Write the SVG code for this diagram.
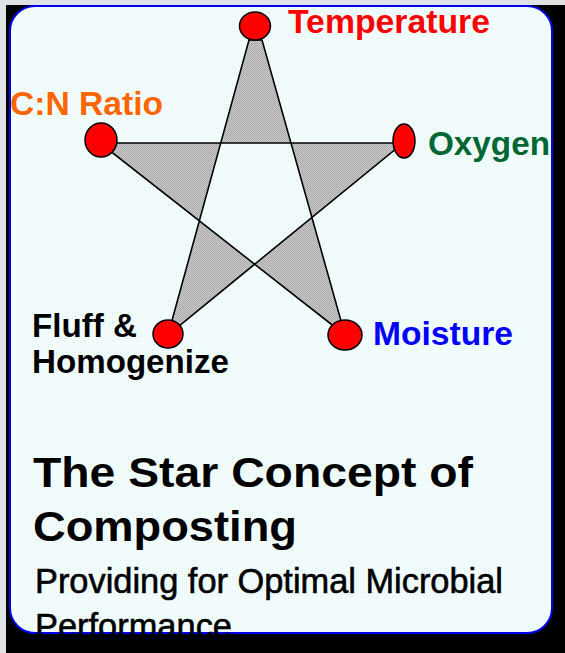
<svg xmlns="http://www.w3.org/2000/svg" width="565" height="653" viewBox="0 0 565 653">
<defs>
<pattern id="cardDots" width="2" height="2" patternUnits="userSpaceOnUse">
<rect width="2" height="2" fill="#f8ffff"/>
<rect width="1" height="1" fill="#ddf8f8"/>
</pattern>
<pattern id="starFill" width="2" height="2" patternUnits="userSpaceOnUse">
<rect width="2" height="2" fill="#c8c8c8"/>
<rect width="1" height="1" fill="#acacac"/>
<rect x="1" y="1" width="1" height="1" fill="#acacac"/>
</pattern>
</defs>
<style>
.lbl{font-family:"Liberation Sans",Arial,sans-serif;font-weight:bold;font-size:33px}
.title{font-family:"Liberation Sans",Arial,sans-serif;font-weight:bold;font-size:43px;fill:#000}
.sub{font-family:"Liberation Sans",Arial,sans-serif;font-size:35px;fill:#000;stroke:#000;stroke-width:0.6}
.node{fill:#ff0000;stroke:#000;stroke-width:1.5}
</style>
<rect x="0" y="0" width="565" height="653" fill="#dfe3e6"/>
<rect x="6" y="5" width="559" height="648" fill="#000"/>
<rect id="card" x="10" y="6" width="542" height="627" rx="25" ry="25" fill="url(#cardDots)" stroke="#0000ee" stroke-width="2"/>
<g id="connectors">
<path d="M168,335 L249,40 L262,40 L345,335 L100,143 L403,143 Z" fill="url(#starFill)" fill-rule="evenodd" stroke="#000" stroke-width="1.6" stroke-linejoin="miter"/>
</g>
<g id="temperature">
<ellipse class="node" cx="255" cy="26" rx="15.5" ry="14"/>
<text class="lbl" x="288" y="33" fill="#ff0000" textLength="202" lengthAdjust="spacingAndGlyphs">Temperature</text>
</g>
<g id="cn-ratio">
<ellipse class="node" cx="101" cy="140" rx="16" ry="17"/>
<text class="lbl" x="10" y="115" fill="#ff6600" textLength="153" lengthAdjust="spacingAndGlyphs">C:N Ratio</text>
</g>
<g id="oxygen">
<ellipse class="node" cx="404" cy="141" rx="11" ry="17"/>
<text class="lbl" x="428" y="155" fill="#006633" textLength="122" lengthAdjust="spacingAndGlyphs">Oxygen</text>
</g>
<g id="fluff">
<ellipse class="node" cx="168" cy="334" rx="15" ry="14"/>
<text class="lbl" x="32" y="337" fill="#000" textLength="105" lengthAdjust="spacingAndGlyphs">Fluff &amp;</text>
<text class="lbl" x="32" y="373" fill="#000" textLength="197" lengthAdjust="spacingAndGlyphs">Homogenize</text>
</g>
<g id="moisture">
<ellipse class="node" cx="345" cy="335" rx="17" ry="15"/>
<text class="lbl" x="373" y="345" fill="#0000ff" textLength="140" lengthAdjust="spacingAndGlyphs">Moisture</text>
</g>
<g id="caption">
<text class="title" x="33" y="487" textLength="440" lengthAdjust="spacingAndGlyphs">The Star Concept of</text>
<text class="title" x="33" y="541" textLength="264" lengthAdjust="spacingAndGlyphs">Composting</text>
<text class="sub" x="35" y="593" textLength="468" lengthAdjust="spacingAndGlyphs">Providing for Optimal Microbial</text>
<text class="sub" x="35" y="638" textLength="197" lengthAdjust="spacingAndGlyphs">Performance</text>
</g>
<rect x="6" y="634" width="559" height="19" fill="#000"/>
</svg>
